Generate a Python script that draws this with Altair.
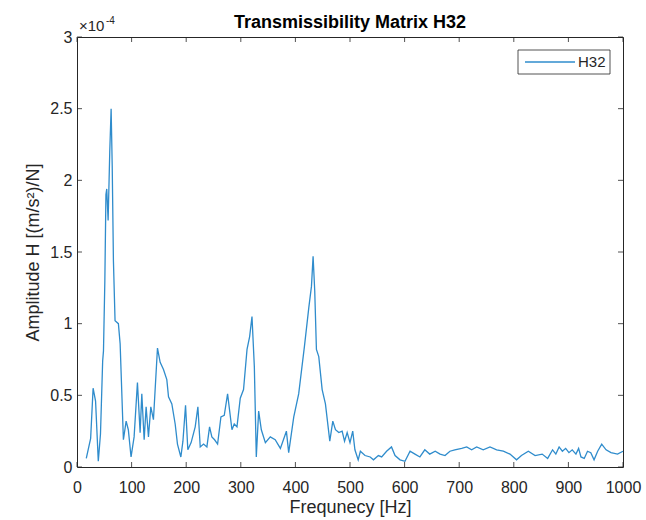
import altair as alt
import pandas as pd

# ---- data (values in units of 1e-4) ----
freq = [17, 25, 29.5, 34, 39, 43, 47, 48.5, 51, 53, 54.5, 57, 60, 62.5, 64.5, 66.7,
        69.7, 75.8, 79, 85, 90, 94, 99, 104.6, 110.7, 115.6, 118.7, 123, 126.6, 130.9,
        135.2, 140, 147.4, 152.3, 158.4, 164.5, 167.6, 173.7, 179.8, 184, 190.2, 194,
        198.8, 203, 209, 216.5, 221.4, 225.7, 231.8, 237.9, 242.8, 247, 252, 257.5,
        263.6, 269.7, 275.8, 283.8, 288, 293, 299, 305, 311.4, 316.2, 320.5, 324.8,
        328.4, 332.7, 337.6, 345, 354, 363, 372.5, 383.5, 387.7, 397, 406, 416.5,
        424.5, 429.4, 432.4, 435.4, 438.5, 442.8, 449, 455, 463, 468.5, 473.4, 479.5,
        485.6, 490, 494.8, 500, 505, 509, 515, 519, 527.5, 537, 543, 552, 558, 567,
        576, 582.5, 591.6, 600.7, 610, 619, 628, 637, 646, 656, 665, 674, 683, 692,
        704.6, 713.7, 722.8, 732, 744, 756.4, 768.6, 780.8, 793, 805, 814, 826.6, 839,
        852, 862, 871, 877, 883, 889,
        895, 901, 907, 913.8, 918.7, 923, 929, 935, 941, 947, 953.6, 961, 969, 978,
        990, 1000]
amp = [0.06, 0.20, 0.55, 0.46, 0.04, 0.23, 0.74, 0.81, 1.30, 1.90, 1.94, 1.72, 2.20,
       2.50, 2.10, 1.44, 1.02, 1.00, 0.86, 0.19, 0.32, 0.26, 0.07, 0.21, 0.59, 0.24,
       0.51, 0.19, 0.42, 0.21, 0.42, 0.33, 0.83, 0.73, 0.68, 0.61, 0.49, 0.44, 0.30,
       0.16, 0.07, 0.18, 0.43, 0.12, 0.17, 0.28, 0.42, 0.14, 0.16, 0.14, 0.28, 0.21,
       0.19, 0.16, 0.35, 0.36, 0.51, 0.26, 0.30, 0.28, 0.48, 0.54, 0.82, 0.91, 1.05,
       0.70, 0.07, 0.39, 0.26, 0.17, 0.21, 0.19, 0.13, 0.25, 0.10, 0.35, 0.51, 0.84,
       1.11, 1.26, 1.47, 1.23, 0.82, 0.77, 0.54, 0.44, 0.18, 0.32, 0.26, 0.24, 0.25,
       0.18, 0.24, 0.17, 0.25, 0.12, 0.05, 0.11, 0.08, 0.07, 0.05, 0.08, 0.07, 0.11,
       0.14, 0.08, 0.05, 0.04, 0.11, 0.09, 0.07, 0.12, 0.09, 0.11, 0.09, 0.08, 0.11,
       0.12, 0.13, 0.14, 0.12, 0.14, 0.12, 0.14, 0.12, 0.11, 0.09, 0.05, 0.08, 0.11,
       0.08, 0.09, 0.06, 0.12, 0.09, 0.14, 0.11,
       0.13, 0.10, 0.12, 0.09, 0.13, 0.07, 0.06, 0.11, 0.10, 0.05, 0.11, 0.16, 0.12,
       0.10, 0.09, 0.11]
x_ticks = [0, 100, 200, 300, 400, 500, 600, 700, 800, 900, 1000]
y_ticks = [0, 0.5, 1, 1.5, 2, 2.5, 3]
series_name = ["H32"]
title_text = ["Transmissibility Matrix H32"]
x_title = "Frequnecy [Hz]"
y_title = "Amplitude H [(m/s²)/N]"
exp_base = ["×10"]
exp_power = ["-4"]

# ---- styling ----
W, H = 546, 430
LINE = "#2f8ccc"
INK = "#262626"
FONT = "Liberation Sans"

df = pd.DataFrame({"f": freq, "a": amp})
xt = pd.DataFrame({"f": x_ticks})
yt = pd.DataFrame({"a": y_ticks})
xs = alt.Scale(domain=[0, 1000], nice=False, zero=False)
ys = alt.Scale(domain=[0, 3], nice=False)
x_axis = alt.Axis(values=x_ticks, format="d", title=x_title,
                  labelPadding=12, titlePadding=3, labelFlush=False)
y_axis = alt.Axis(values=y_ticks, format="~g", title=y_title,
                  labelPadding=5, titlePadding=7, labelFlush=False)


def X():
    return alt.X("f:Q", scale=xs, axis=x_axis)


def Y():
    return alt.Y("a:Q", scale=ys, axis=y_axis)


line = alt.Chart(df).mark_line(color=LINE, strokeWidth=1.3).encode(x=X(), y=Y())

tick_col = alt.value(INK)
bx = alt.Chart(xt).mark_rule(strokeWidth=0.8).encode(
    x=X(), y=alt.value(H), y2=alt.value(H - 5), color=tick_col)
tx = alt.Chart(xt).mark_rule(strokeWidth=0.8).encode(
    x=X(), y=alt.value(0), y2=alt.value(5), color=tick_col)
ly = alt.Chart(yt).mark_rule(strokeWidth=0.8).encode(
    y=Y(), x=alt.value(0), x2=alt.value(5), color=tick_col)
ry = alt.Chart(yt).mark_rule(strokeWidth=0.8).encode(
    y=Y(), x=alt.value(W), x2=alt.value(W - 5), color=tick_col)

title = alt.Chart(pd.DataFrame({"s": title_text})).mark_text(
    font=FONT, fontSize=18, fontWeight="bold", color="#000000",
    align="center", baseline="alphabetic").encode(
    x=alt.value(W / 2), y=alt.value(-9), text="s:N")

e1 = alt.Chart(pd.DataFrame({"s": exp_base})).mark_text(
    font=FONT, fontSize=15, color=INK, align="left", baseline="alphabetic").encode(
    x=alt.value(2), y=alt.value(-6), text="s:N")
e2 = alt.Chart(pd.DataFrame({"s": exp_power})).mark_text(
    font=FONT, fontSize=10, color=INK, align="left", baseline="alphabetic").encode(
    x=alt.value(29), y=alt.value(-13), text="s:N")

leg = pd.DataFrame({"s": series_name})
leg_box = alt.Chart(leg).mark_rect(fill="white", stroke=INK, strokeWidth=0.8).encode(
    x=alt.value(441), x2=alt.value(533), y=alt.value(13), y2=alt.value(37))
leg_line = alt.Chart(leg).mark_rule(color=LINE, strokeWidth=1.3).encode(
    x=alt.value(448), x2=alt.value(498), y=alt.value(25))
leg_text = alt.Chart(leg).mark_text(
    font=FONT, fontSize=15, color=INK, align="left", baseline="middle").encode(
    x=alt.value(501), y=alt.value(25), text="s:N")

chart = alt.layer(
    line, bx, tx, ly, ry, title, e1, e2, leg_box, leg_line, leg_text
).properties(
    width=W, height=H,
    padding={"left": 77, "top": 37, "right": 23, "bottom": 53},
    autosize=alt.AutoSizeParams(type="none"),
    background="white",
).configure_view(
    stroke=INK, strokeWidth=1
).configure_axis(
    grid=False, domain=False, ticks=False, labelFlush=False,
    labelFont=FONT, labelFontSize=16, labelColor=INK,
    titleFont=FONT, titleFontSize=18, titleFontWeight="normal", titleColor=INK,
)

chart.save("out.html", embed_options={"renderer": "svg", "actions": False})
